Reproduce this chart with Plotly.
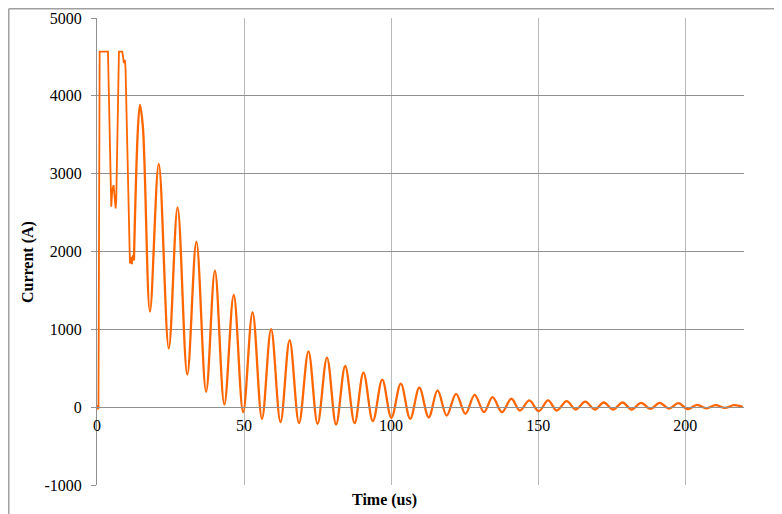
import plotly.graph_objects as go

# ---- data ----
# early, clipped part of the waveform (straight segments)
t_early = [0.0, 0.5, 0.9, 3.73, 4.85, 5.19, 5.64, 5.98, 6.33, 6.55, 7.46, 8.59,
           9.16, 9.5, 9.7, 11.2, 11.54, 11.88, 12.22, 12.56]
i_early = [0, 0, 4569, 4569, 2574, 2789, 2853, 2703, 2553, 2660, 4569, 4569,
           4419, 4462, 4355, 1845, 1930, 1837, 1952, 1887]

# damped ringing part (peaks and troughs)
t_ring = [12.56, 14.6, 15.6, 18.0, 21.0, 24.4, 27.4, 30.7, 33.8, 37.1, 40.1, 43.3,
          46.5, 49.7, 52.9, 56.1, 59.2, 62.4, 65.5, 68.7, 71.9, 75.0, 78.2, 81.3,
          84.4, 87.6, 90.6, 93.8, 97.0, 100.1, 103.3, 106.5, 109.6, 112.8, 115.8,
          118.9, 122.1, 125.3, 128.4, 131.6, 134.5, 137.7, 140.9, 143.8, 147.0,
          150.2, 153.4, 156.3, 159.7, 162.8, 166.0, 169.3, 172.3, 175.5, 178.7,
          181.8, 185.0, 188.2, 191.3, 194.5, 197.7, 200.9, 204.0, 207.2, 210.3,
          213.5, 216.6, 219.6]
i_ring = [1887, 3883, 3600, 1230, 3124, 755, 2568, 420, 2126, 197, 1753, 35,
          1441, -64, 1218, -150, 1002, -193, 860, -206, 718, -215, 637, -223,
          529, -206, 443, -180, 353, -137, 302, -150, 250, -130, 215,
          -107, 172, -86, 159, -64, 129, -64, 108, -43, 86,
          -52, 86, -43, 77, -30, 70, -30, 60, -30, 60,
          -30, 56, -21, 56, -17, 52, -26, 30, -15, 25,
          -10, 25, 5]

x_ticks = [0, 50, 100, 150, 200]
y_ticks = [-1000, 0, 1000, 2000, 3000, 4000, 5000]

x_title = "Time (us)"
y_title = "Current (A)"

LINE = "#ff6600"
FONT = "Liberation Serif"

fig = go.Figure()
fig.add_trace(go.Scatter(x=t_early, y=i_early, mode="lines",
                         line=dict(color=LINE, width=1.8), showlegend=False))
fig.add_trace(go.Scatter(x=t_ring, y=i_ring, mode="lines",
                         line=dict(color=LINE, width=2.3, shape="spline", smoothing=1),
                         showlegend=False))
fig.add_trace(go.Scatter(x=t_early[:1], y=i_early[:1], mode="markers",
                         marker=dict(color=LINE, size=5), showlegend=False))

fig.update_layout(
    width=774, height=506,
    margin=dict(l=89, r=38, t=10, b=29),
    paper_bgcolor="white", plot_bgcolor="white",
    font=dict(family=FONT, size=16, color="black"),
    xaxis=dict(range=[0, 220], tickvals=x_ticks, ticktext=[str(v) for v in x_ticks],
               showgrid=True, gridcolor="#b8b8b8", gridwidth=1,
               showline=True, linecolor="#909090", linewidth=1,
               zeroline=False, ticks="", anchor="free", position=1/6,
               ticklabelstandoff=4, tickfont=dict(family=FONT, size=16),
               automargin=False),
    yaxis=dict(range=[-1000, 5000], tickvals=y_ticks, ticktext=[str(v) for v in y_ticks],
               showgrid=True, gridcolor="#909090", gridwidth=1,
               showline=True, linecolor="#909090", linewidth=1,
               zeroline=False, ticks="outside", ticklen=5, tickcolor="#909090",
               ticklabelstandoff=6, tickfont=dict(family=FONT, size=16),
               automargin=False),
    annotations=[
        dict(text="<b>%s</b>" % y_title, xref="paper", yref="paper",
             x=-0.1066, y=0.4775, textangle=-90, showarrow=False,
             xanchor="center", yanchor="middle", font=dict(family=FONT, size=16)),
        dict(text="<b>%s</b>" % x_title, xref="paper", yref="paper",
             x=0.4436, y=-0.032, showarrow=False,
             xanchor="center", yanchor="middle", font=dict(family=FONT, size=16)),
    ],
    shapes=[
        dict(type="line", xref="paper", yref="paper", x0=-0.1364, y0=1.0198,
             x1=1.08, y1=1.0198, line=dict(color="#a0a0a0", width=1.5)),
        dict(type="line", xref="paper", yref="paper", x0=-0.1364, y0=1.0198,
             x1=-0.1364, y1=-0.08, line=dict(color="#a0a0a0", width=1.5)),
    ],
)

fig.write_html("out.html")
